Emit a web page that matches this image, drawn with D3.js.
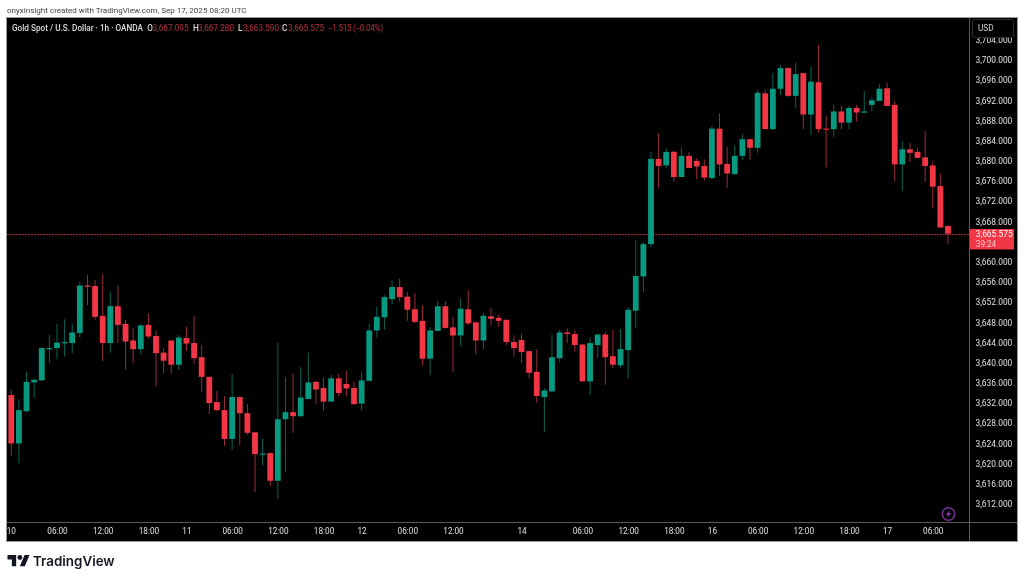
<!DOCTYPE html>
<html><head><meta charset="utf-8">
<style>html,body{margin:0;padding:0;background:#fff}svg{display:block;filter:blur(.3px)}text{font-family:Roboto,"Liberation Sans",sans-serif}</style>
<script src="https://cdn.jsdelivr.net/npm/d3@7"></script></head>
<body><div id="c"></div>
<script>
const opens=[3633.6,3624.0,3630.4,3636.1,3636.5,3642.8,3642.9,3643.9,3643.9,3645.9,
3655.3,3655.2,3649.3,3643.9,3651.2,3647.7,3644.4,3642.7,3647.5,3645.3,
3642.0,3644.4,3639.6,3644.9,3643.9,3641.1,3637.2,3632.2,3630.6,3624.9,
3633.2,3630.0,3626.2,3621.9,3622.1,3616.6,3628.8,3630.2,3629.4,3632.8,
3636.2,3635.0,3632.3,3636.9,3635.8,3635.0,3631.9,3636.4,3646.4,3649.0,
3652.6,3655.0,3653.1,3650.6,3648.3,3640.8,3646.3,3651.2,3647.0,3645.4,
3650.6,3648.0,3644.4,3649.2,3648.9,3648.5,3644.1,3644.5,3642.3,3638.2,
3633.2,3634.3,3640.9,3646.0,3645.7,3643.6,3636.3,3643.5,3645.6,3641.3,
3639.5,3642.5,3650.3,3657.1,3663.5,3680.4,3679.1,3681.8,3676.8,3681.0,
3680.0,3679.0,3676.6,3686.4,3679.4,3677.4,3681.0,3684.3,3682.6,3693.4,
3686.3,3694.3,3698.4,3692.9,3697.4,3689.2,3695.6,3686.4,3686.3,3689.8,
3687.6,3690.5,3689.6,3691.1,3691.9,3694.4,3691.1,3679.3,3682.3,3681.8,
3680.7,3679.1,3675.0,3667.095];
const closes=[3624.0,3630.6,3636.2,3636.6,3642.9,3642.9,3644.0,3644.1,3646.0,3655.3,
3655.2,3649.1,3643.9,3651.2,3647.5,3644.2,3642.7,3647.4,3645.2,3641.9,
3640.4,3639.6,3645.0,3643.8,3640.9,3637.2,3632.0,3630.6,3624.9,3633.2,
3630.0,3626.1,3621.9,3622.0,3616.6,3628.8,3630.2,3629.4,3633.1,3636.1,
3634.7,3632.3,3636.9,3634.0,3634.9,3631.8,3636.5,3646.4,3649.1,3653.0,
3655.0,3653.0,3650.5,3648.1,3640.8,3646.4,3651.2,3646.9,3645.4,3650.7,
3647.8,3644.4,3649.3,3648.7,3648.3,3644.1,3642.9,3642.1,3638.0,3633.4,
3634.5,3641.1,3646.0,3645.7,3643.5,3636.3,3643.9,3645.6,3641.1,3639.6,
3642.7,3650.5,3657.2,3663.5,3680.4,3679.0,3681.8,3676.8,3681.0,3678.6,
3678.9,3676.7,3686.4,3679.3,3677.5,3681.0,3684.3,3682.6,3693.5,3686.3,
3694.3,3698.4,3692.9,3697.2,3689.2,3695.7,3686.3,3686.2,3689.8,3687.6,
3690.5,3689.6,3689.8,3692.0,3694.3,3690.9,3679.3,3682.3,3681.6,3680.6,
3679.0,3674.9,3666.8,3665.575];
const highs=[3634.6,3632.8,3638.2,3636.9,3643.1,3645.5,3647.7,3648.6,3647.8,3656.1,
3657.4,3656.4,3657.6,3654.1,3655.4,3648.5,3646.8,3647.6,3649.7,3646.4,
3642.9,3644.4,3645.5,3647.1,3649.3,3643.5,3637.3,3634.4,3633.4,3637.8,
3633.3,3631.8,3626.3,3625.0,3622.2,3644.0,3637.2,3637.9,3639.1,3642.0,
3636.4,3637.1,3637.6,3637.8,3638.4,3636.2,3638.1,3647.7,3651.1,3653.4,
3656.3,3656.7,3654.0,3653.8,3651.4,3647.1,3652.2,3652.2,3649.1,3652.7,
3654.4,3648.0,3649.8,3650.8,3649.5,3648.6,3645.4,3645.7,3642.3,3642.7,
3634.9,3645.5,3646.5,3646.8,3646.4,3643.7,3645.0,3645.7,3646.1,3646.5,
3646.7,3651.0,3664.3,3663.9,3681.8,3685.5,3682.5,3682.0,3682.7,3681.8,
3680.5,3680.3,3686.9,3689.4,3682.8,3683.1,3685.3,3684.4,3694.1,3694.1,
3697.4,3699.0,3698.6,3699.5,3697.5,3698.7,3703.0,3688.9,3691.2,3690.9,
3690.9,3691.1,3693.9,3692.6,3695.2,3695.5,3691.9,3683.8,3683.6,3682.6,
3685.9,3680.0,3677.4,3667.28];
const lows=[3621.5,3620.1,3630.2,3633.1,3636.5,3639.9,3640.7,3641.2,3641.9,3645.0,
3651.4,3648.5,3640.3,3642.0,3643.9,3638.6,3639.9,3641.7,3644.7,3635.3,
3638.0,3637.9,3638.6,3642.4,3639.8,3634.3,3629.8,3630.4,3623.5,3622.7,
3623.7,3625.7,3614.4,3619.7,3615.6,3613.0,3618.4,3626.1,3629.3,3632.8,
3631.8,3630.5,3632.3,3633.3,3633.4,3631.7,3630.6,3636.4,3645.0,3646.6,
3651.6,3652.1,3648.3,3647.8,3639.5,3637.6,3646.3,3646.8,3638.2,3643.3,
3647.5,3641.7,3642.7,3647.5,3647.1,3643.5,3641.2,3639.9,3636.9,3632.1,
3626.3,3634.3,3640.2,3643.9,3642.2,3636.3,3633.6,3640.9,3635.6,3639.0,
3639.0,3636.9,3646.8,3654.0,3663.0,3674.7,3678.5,3675.9,3676.8,3678.5,
3676.4,3676.1,3676.4,3677.0,3674.7,3677.2,3680.2,3680.2,3681.6,3686.3,
3686.1,3693.1,3692.7,3690.4,3686.3,3685.1,3685.6,3678.7,3684.7,3686.3,
3686.3,3687.8,3689.6,3689.8,3691.9,3690.9,3676.0,3674.0,3679.8,3680.6,
3675.9,3670.6,3666.8,3663.59];
const priceTicks=[3612,3616,3620,3624,3628,3632,3636,3640,3644,3648,3652,3656,3660,3668,3672,3676,3680,3684,3688,3692,3696,3700,3704];
const timeTickIndex=[0,6,12,18,23,29,35,41,46,52,58,67,75,81,87,92,98,104,110,115,121];
const timeTickLabels=["10","06:00","12:00","18:00","11","06:00","12:00","18:00","12","06:00","12:00","14","06:00","12:00","18:00","16","06:00","12:00","18:00","17","06:00"];
const watermark="onyxinsight created with TradingView.com, Sep 17, 2025 08:20 UTC";
const title="Gold Spot / U.S. Dollar · 1h · OANDA";
const ohlc=[["O","3,667.095"],["H","3,667.280"],["L","3,663.590"],["C","3,665.575"]];
const change="−1.515 (−0.04%)";
const lastPrice=3665.575, countdown="39:24";

const UP="#089981",DOWN="#f23645",UPW="#0a6355",DOWNW="#9a2c38";
const W=1024,H=581,L=7,R=1017,T=18,B=541,AX=969.5,AY=522.5;
const svg=d3.select("#c").append("svg").attr("width",W).attr("height",H);
svg.append("rect").attr("width",W).attr("height",H).attr("fill","#fff");
svg.append("rect").attr("x",L).attr("y",T).attr("width",R-L).attr("height",B-T).attr("fill","#000");

const x=d3.scaleLinear().domain([0,123]).range([11.3,948]);
const y=d3.scaleLinear().domain([3700,3612]).range([60,504]);
const bw=5.8;

// price line below candles
const ly=Math.round(y(lastPrice))+.5;
svg.append("line").attr("x1",L).attr("x2",AX).attr("y1",ly).attr("y2",ly)
 .attr("stroke","#a5222e").attr("stroke-width",1).attr("stroke-dasharray","2 1").attr("shape-rendering","crispEdges");

const data=d3.range(opens.length);
const plot=svg.append("g");
plot.selectAll("line.w").data(data).join("line").attr("class","w")
 .attr("x1",i=>x(i)).attr("x2",i=>x(i)).attr("y1",i=>y(highs[i])).attr("y2",i=>y(lows[i]))
 .attr("stroke",i=>closes[i]>=opens[i]?UPW:DOWNW).attr("stroke-width",1);
plot.selectAll("rect.b").data(data).join("rect").attr("class","b")
 .attr("x",i=>x(i)-bw/2).attr("width",bw)
 .attr("y",i=>y(Math.max(opens[i],closes[i])))
 .attr("height",i=>Math.max(1.2,y(Math.min(opens[i],closes[i]))-y(Math.max(opens[i],closes[i]))))
 .attr("fill",i=>closes[i]>=opens[i]?UP:DOWN);

// axes
const fmt=d3.format(",.3f");
const ya=svg.append("g").attr("transform",`translate(${AX+6},0)`)
 .call(d3.axisRight(y).tickValues(priceTicks).tickSize(0).tickPadding(0).tickFormat(fmt));
ya.select(".domain").remove();
ya.selectAll("text").attr("fill","#e0e0e0").attr("font-size",8.4).style("font-family","Roboto");
const xa=svg.append("g").attr("transform",`translate(0,${AY+6})`)
 .call(d3.axisBottom(x).tickValues(timeTickIndex).tickSize(0).tickPadding(0).tickFormat((d,i)=>timeTickLabels[i]));
xa.select(".domain").remove();
xa.selectAll("text").attr("fill","#e0e0e0").attr("font-size",8.2).style("font-family","Roboto");
xa.selectAll("text").filter((d,i)=>i===0).attr("dx",-0.5);

// frame
const line=(a,b,c,d)=>svg.append("line").attr("x1",a).attr("y1",b).attr("x2",c).attr("y2",d).attr("stroke","#5a5a5a").attr("stroke-width",1);
line(AX,T,AX,B);line(L,AY,R,AY);
svg.append("rect").attr("x",L-.5).attr("y",T-.5).attr("width",R-L+1).attr("height",B-T+1).attr("fill","none").attr("stroke","#9a9a9a");

// USD box
svg.append("rect").attr("x",972.5).attr("y",19.5).attr("width",41).attr("height",18).attr("rx",2.5).attr("fill","#000").attr("stroke","#2e2e2e");
svg.append("text").attr("x",978).attr("y",31).attr("fill","#cfcfcf").attr("font-size",8.2).text("USD");

// last price label
svg.append("rect").attr("x",970).attr("y",y(lastPrice)-4.7).attr("width",44).attr("height",20.5).attr("rx",1).attr("fill",DOWN);
svg.append("text").attr("x",975.8).attr("y",y(lastPrice)+3.5).attr("fill","#fff").attr("font-size",8.4).text(fmt(lastPrice));
svg.append("text").attr("x",975.8).attr("y",y(lastPrice)+13).attr("fill","#fbc6cb").attr("font-size",8.2).text(countdown);

// header
svg.append("text").attr("x",7).attr("y",13).attr("fill","#444").attr("font-size",8.06).text(watermark);
svg.append("text").attr("x",12).attr("y",31).attr("fill","#dcdcdc").attr("font-size",8.2).attr("font-weight",500)
 .attr("textLength",131).attr("lengthAdjust","spacing").text(title);
const lx=[147.3,193,238,282],vx=[152.5,198,243,288];
ohlc.forEach((d,i)=>{
 svg.append("text").attr("x",lx[i]).attr("y",31).attr("fill","#d8d8d8").attr("font-size",8.2).attr("font-weight",500).text(d[0]);
 svg.append("text").attr("x",vx[i]).attr("y",31).attr("fill","#b5303b").attr("font-size",8.2).text(d[1]);
});
svg.append("text").attr("x",328).attr("y",31).attr("fill","#b5303b").attr("font-size",8.2)
 .attr("textLength",55).attr("lengthAdjust","spacing").text(change);

// lightning badge
const bolt=svg.append("g").attr("transform","translate(948.5,514)");
bolt.append("circle").attr("r",6.2).attr("fill","#000").attr("stroke","#7a3399").attr("stroke-width",1.4);
bolt.append("path").attr("d","M1.3-4L-2.6 .8H-.2L-1.3 4L2.6-.8H.2Z").attr("fill","#8a44ad");

// logo
const logo=svg.append("g").attr("transform","translate(7.5,552.6) scale(0.62)").attr("fill","#131722");
logo.append("path").attr("d","M14 22H7V11H0V4h14v18zM28 22h-8l7.5-18h8L28 22z");
logo.append("circle").attr("cx",20).attr("cy",8).attr("r",4);
svg.append("text").attr("x",33).attr("y",566).attr("fill","#131722").attr("font-size",13.4).attr("font-weight",600).style("font-family","Inter").text("TradingView");
</script></body></html>
